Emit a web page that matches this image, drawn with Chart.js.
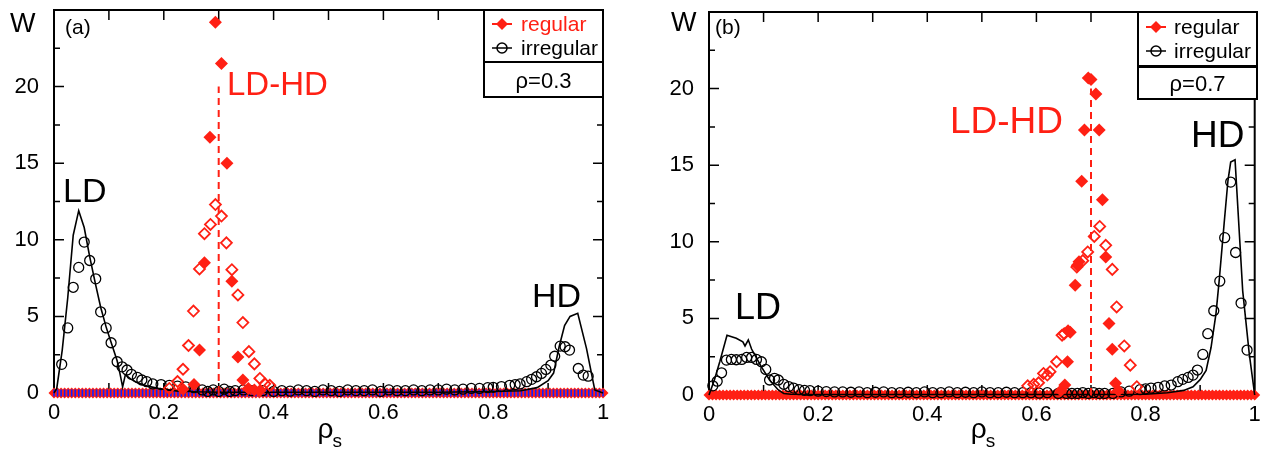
<!DOCTYPE html>
<html>
<head>
<meta charset="utf-8">
<script src="https://cdn.jsdelivr.net/npm/chart.js@4.4.1/dist/chart.umd.min.js"></script>
<style>
  html, body { margin: 0; padding: 0; background: #fff; }
  .row { display: flex; width: 1262px; height: 455px; }
  canvas { display: block; }
</style>
</head>
<body>
<div class="row">
  <canvas id="panelA" width="631" height="455"></canvas>
  <canvas id="panelB" width="631" height="455"></canvas>
</div>
<script>
// ---- panel (a), rho = 0.3 ----
const aRegFillX = [0.235, 0.255, 0.265, 0.274, 0.284, 0.294, 0.305, 0.315, 0.324, 0.335, 0.344, 0.354, 0.365, 0.375];
const aRegFillY = [0.25, 0.55, 2.8, 8.5, 16.7, 24.2, 21.5, 15.0, 7.3, 2.35, 0.85, 0.3, 0.2, 0.15];
const aRegOpenX = [0.21, 0.225, 0.235, 0.245, 0.254, 0.265, 0.274, 0.285, 0.294, 0.305, 0.314, 0.324, 0.335, 0.344, 0.355, 0.365, 0.375, 0.384, 0.393];
const aRegOpenY = [0.3, 0.75, 1.55, 3.1, 5.35, 8.1, 10.4, 11.0, 12.3, 11.55, 9.8, 8.05, 6.4, 4.6, 2.7, 1.9, 0.95, 0.6, 0.5];
const aIrrX = [0.014, 0.025, 0.035, 0.045, 0.055, 0.065, 0.076, 0.085, 0.095, 0.104, 0.115, 0.124, 0.133, 0.141, 0.152, 0.16, 0.169, 0.18, 0.195, 0.21, 0.225, 0.24, 0.255, 0.27, 0.28, 0.29, 0.3, 0.31, 0.32, 0.33, 0.345, 0.36, 0.38,
  0.4, 0.415, 0.43, 0.445, 0.46, 0.475, 0.49, 0.505, 0.52, 0.535, 0.55, 0.565, 0.58, 0.595, 0.61, 0.625, 0.64, 0.655, 0.67, 0.685, 0.7, 0.715, 0.73, 0.745, 0.76, 0.775, 0.79,
  0.8, 0.815, 0.83, 0.84, 0.849, 0.861, 0.87, 0.879, 0.888, 0.896, 0.905, 0.912, 0.922, 0.931, 0.939, 0.955, 0.964, 0.973];
const aIrrY = [1.87, 4.25, 6.9, 8.2, 9.85, 8.65, 7.45, 5.3, 4.25, 3.28, 2.04, 1.71, 1.5, 1.22, 1.02, 0.85, 0.74, 0.59, 0.55, 0.5, 0.45, 0.4, 0.35, 0.2, 0.1, 0.2, 0.1, 0.25, 0.1, 0.15, 0.2, 0.15, 0.15,
  0.1, 0.15, 0.12, 0.2, 0.15, 0.1, 0.2, 0.15, 0.1, 0.2, 0.15, 0.15, 0.2, 0.1, 0.2, 0.15, 0.15, 0.2, 0.15, 0.2, 0.2, 0.25, 0.2, 0.25, 0.3, 0.3, 0.35,
  0.37, 0.42, 0.5, 0.55, 0.59, 0.74, 0.89, 1.06, 1.28, 1.54, 1.82, 2.4, 3.06, 3.02, 2.8, 1.6, 1.17, 1.1];
const aLineX = [0, 0.005, 0.015, 0.025, 0.035, 0.045, 0.055, 0.065, 0.075, 0.085, 0.095, 0.105, 0.115, 0.12, 0.125, 0.13, 0.14, 0.15, 0.17, 0.19, 0.22, 0.26, 0.3, 0.35, 0.4, 0.5, 0.6, 0.7, 0.8, 0.85, 0.88, 0.9, 0.91, 0.92, 0.93, 0.94, 0.954, 0.97, 0.985, 1.0];
const aLineY = [0, 0.3, 2.8, 6.2, 10.3, 11.9, 10.8, 8.9, 7.2, 5.6, 4.3, 3.2, 2.1, 1.3, 0.4, 1.2, 0.9, 0.7, 0.45, 0.3, 0.15, 0.08, 0.05, 0.05, 0.05, 0.05, 0.05, 0.05, 0.1, 0.15, 0.35, 0.8, 1.3, 3.0, 4.4, 5.0, 5.2, 2.9, 0.2, 0];
const aCritX = [0.3, 0.3];
const aCritY = [0, 20];

// ---- panel (b), rho = 0.7 ----
const bRegFillX = [0.645, 0.652, 0.657, 0.658, 0.662, 0.671, 0.675, 0.678, 0.683, 0.688, 0.695, 0.7, 0.709, 0.715, 0.721, 0.727, 0.733, 0.739, 0.745, 0.75];
const bRegFillY = [0.3, 0.65, 2.17, 4.2, 4.1, 7.17, 8.47, 8.7, 13.96, 17.3, 20.7, 20.6, 19.65, 17.3, 12.75, 9.0, 4.67, 2.98, 0.76, 0.3];
const bRegOpenX = [0.584, 0.595, 0.604, 0.613, 0.62, 0.625, 0.637, 0.647, 0.651, 0.674, 0.685, 0.694, 0.706, 0.716, 0.727, 0.739, 0.747, 0.761, 0.772, 0.784];
const bRegOpenY = [0.6, 0.7, 0.8, 1.41, 1.3, 1.52, 2.17, 3.9, 4.0, 8.35, 8.77, 9.34, 10.35, 11.0, 9.77, 8.2, 5.75, 3.2, 1.95, 0.54];
const bIrrX = [0.007, 0.015, 0.023, 0.032, 0.041, 0.05, 0.06, 0.069, 0.078, 0.087, 0.096, 0.104, 0.111, 0.12, 0.127, 0.137, 0.146, 0.155, 0.165, 0.175,
  0.185, 0.2, 0.215, 0.23, 0.245, 0.26, 0.275, 0.29, 0.305, 0.32, 0.335, 0.35, 0.365, 0.38, 0.395, 0.41, 0.425, 0.44, 0.455, 0.47, 0.485, 0.5, 0.515, 0.53, 0.545, 0.56, 0.575, 0.59, 0.605, 0.62,
  0.64, 0.655, 0.665, 0.675, 0.685, 0.695, 0.705, 0.715, 0.725, 0.74, 0.755, 0.77, 0.79, 0.8, 0.81, 0.823, 0.835, 0.847, 0.859, 0.868, 0.878, 0.887, 0.895, 0.905, 0.914, 0.925, 0.936, 0.945, 0.956, 0.965, 0.975, 0.986];
const bIrrY = [0.6, 0.9, 1.45, 2.28, 2.32, 2.3, 2.32, 2.45, 2.45, 2.32, 2.17, 1.67, 0.98, 1.09, 0.98, 0.7, 0.55, 0.45, 0.35, 0.3,
  0.28, 0.25, 0.22, 0.2, 0.2, 0.18, 0.2, 0.15, 0.18, 0.2, 0.15, 0.15, 0.18, 0.15, 0.2, 0.15, 0.15, 0.2, 0.15, 0.18, 0.15, 0.2, 0.15, 0.15, 0.18, 0.15, 0.15, 0.15, 0.12, 0.15,
  0.1, 0.1, 0.1, 0.1, 0.15, 0.1, 0.15, 0.1, 0.1, 0.1, 0.2, 0.25, 0.35, 0.4, 0.45, 0.5, 0.59, 0.65, 0.87, 1.02, 1.15, 1.3, 1.63, 2.65, 4.0, 5.5, 7.43, 10.27, 13.9, 9.3, 6.0, 2.93];
const bLineX = [0, 0.01, 0.02, 0.033, 0.05, 0.062, 0.066, 0.072, 0.078, 0.096, 0.111, 0.127, 0.137, 0.15, 0.2, 0.3, 0.4, 0.5, 0.6, 0.7, 0.8, 0.84, 0.87, 0.887, 0.9, 0.911, 0.92, 0.929, 0.935, 0.944, 0.951, 0.956, 0.964, 0.978, 0.99, 1.0];
const bLineY = [0, 1.0, 2.2, 3.9, 3.7, 3.47, 3.2, 3.6, 3.0, 1.84, 0.98, 0.33, 0.1, 0.05, 0.03, 0.03, 0.03, 0.03, 0.03, 0.03, 0.05, 0.15, 0.3, 0.54, 1.0, 1.6, 3.1, 5.3, 7.5, 11.2, 14.0, 15.2, 15.35, 6.8, 2.7, 0];
const bCritX = [0.7, 0.7];
const bCritY = [0, 20];

// zero-valued bins along the baseline (all W = 0)
const zeroBins = Array.from({ length: 156 }, (_, i) => i / 155);

// axis tick marks
const xTickMarks = [0.1, 0.2, 0.3, 0.4, 0.5, 0.6, 0.7, 0.8, 0.9];
const yTickMarks = [2.5, 5, 7.5, 10, 12.5, 15, 17.5, 20, 22.5];

const RED = 'rgb(255,32,20)';
const FONT = '"Liberation Sans", Arial, sans-serif';

const pts = (xs, ys) => xs.map((x, i) => ({ x, y: ys[i] }));

const panelDecor = {
  id: 'panelDecor',
  beforeDatasetsDraw(chart) {
    const { ctx, chartArea: a, scales: { x, y } } = chart;
    ctx.save();
    ctx.strokeStyle = '#000';
    ctx.lineWidth = 2;
    ctx.strokeRect(a.left, a.top, a.right - a.left, a.bottom - a.top);
    ctx.lineWidth = 1.5;
    ctx.beginPath();
    xTickMarks.forEach(v => {
      const px = x.getPixelForValue(v);
      ctx.moveTo(px, a.bottom); ctx.lineTo(px, a.bottom - 10);
      ctx.moveTo(px, a.top); ctx.lineTo(px, a.top + 10);
    });
    yTickMarks.forEach(v => {
      const py = y.getPixelForValue(v);
      const len = v % 5 === 0 ? 10 : 6;
      ctx.moveTo(a.left, py); ctx.lineTo(a.left + len, py);
      ctx.moveTo(a.right, py); ctx.lineTo(a.right - len, py);
    });
    ctx.stroke();
    ctx.restore();
  },
  afterDatasetsDraw(chart, args, o) {
    const { ctx, chartArea: a } = chart;
    ctx.save();
    ctx.textBaseline = 'alphabetic';
    ctx.textAlign = 'left';
    const txt = (s, x, y, size, color) => {
      ctx.font = size + 'px ' + FONT;
      ctx.fillStyle = color || '#000';
      ctx.fillText(s, x, y);
    };
    txt('W', o.w[0], o.w[1], 27);
    txt(o.tag, o.tagPos[0], o.tagPos[1], 21);
    txt('LD', o.ld[0], o.ld[1], o.ld[2]);
    txt('HD', o.hd[0], o.hd[1], o.hd[2]);
    txt('LD-HD', o.ldhd[0], o.ldhd[1], o.ldhd[2], RED);

    // x axis title: rho with subscript s
    const cx = (a.left + a.right) / 2 - 11;
    txt('\u03c1', cx, 438, 28);
    ctx.font = '28px ' + FONT;
    const rw = ctx.measureText('\u03c1').width;
    txt('s', cx + rw - 1, 447, 19);

    // legend boxes
    const L = o.legend;
    ctx.fillStyle = '#fff';
    ctx.fillRect(L.left, L.top, L.right - L.left, L.bottom - L.top);
    ctx.strokeStyle = '#000';
    ctx.lineWidth = 2;
    ctx.strokeRect(L.left, L.top, L.right - L.left, L.mid - L.top);
    ctx.strokeRect(L.left, L.mid2, L.right - L.left, L.bottom - L.mid2);

    // regular entry
    ctx.strokeStyle = RED; ctx.lineWidth = 2;
    ctx.beginPath(); ctx.moveTo(L.mx - 10, L.r1); ctx.lineTo(L.mx + 10, L.r1); ctx.stroke();
    ctx.fillStyle = RED;
    ctx.beginPath();
    ctx.moveTo(L.mx, L.r1 - 6); ctx.lineTo(L.mx + 6, L.r1); ctx.lineTo(L.mx, L.r1 + 6); ctx.lineTo(L.mx - 6, L.r1);
    ctx.closePath(); ctx.fill();
    txt('regular', L.tx, L.r1 + 7, 21, L.regColor);

    // irregular entry
    ctx.strokeStyle = '#000'; ctx.lineWidth = 1.5;
    ctx.beginPath(); ctx.moveTo(L.mx - 10, L.r2); ctx.lineTo(L.mx + 10, L.r2); ctx.stroke();
    ctx.beginPath(); ctx.arc(L.mx, L.r2, 5, 0, Math.PI * 2); ctx.stroke();
    txt('irregular', L.tx, L.r2 + 7, 21);

    ctx.textAlign = 'center';
    txt(o.rho, (L.left + L.right) / 2, L.rhoBase, 22);
    ctx.restore();
  }
};

function makeChart(id, d, layout, decor, withBlue) {
  const datasets = [
    { data: pts(d.critX, d.critY), showLine: true, borderColor: RED, borderWidth: 2, borderDash: [7, 5], pointRadius: 0, order: 0 },
    { data: pts(d.fillX, d.fillY), pointStyle: 'rectRot', pointRadius: 6.5, backgroundColor: RED, borderColor: RED, borderWidth: 0, order: 1 },
    { data: pts(d.openX, d.openY), pointStyle: 'rectRot', pointRadius: 5.5, backgroundColor: 'rgba(0,0,0,0)', borderColor: RED, borderWidth: 1.8, order: 2 },
    { data: pts(d.irrX, d.irrY), pointStyle: 'circle', pointRadius: 5, backgroundColor: 'rgba(0,0,0,0)', borderColor: '#000', borderWidth: 1.3, order: 3 },
    { data: pts(d.lineX, d.lineY), showLine: true, borderColor: '#000', borderWidth: 1.6, pointRadius: 0, order: 4 },
    { data: pts(zeroBins, zeroBins.map(() => 0)), pointStyle: 'rectRot', pointRadius: 5.5, backgroundColor: RED, borderColor: RED, borderWidth: 0, order: 6 }
  ];
  if (withBlue) {
    datasets.push({ data: pts(zeroBins, zeroBins.map(() => 0)), pointStyle: 'line', rotation: 90, pointRadius: 3.6, borderColor: '#1020ff', borderWidth: 1.6, order: 5 });
  }
  datasets.forEach(ds => { ds.clip = 10; });

  return new Chart(document.getElementById(id), {
    type: 'scatter',
    data: { datasets },
    options: {
      responsive: false,
      animation: false,
      events: [],
      layout: { padding: layout.padding },
      plugins: { legend: { display: false }, tooltip: { enabled: false }, panelDecor: decor },
      scales: {
        x: {
          type: 'linear', min: 0, max: 1,
          grid: { display: false }, border: { display: false },
          afterFit(s) { s.height = layout.xHeight; s.paddingLeft = 0; s.paddingRight = 0; },
          ticks: {
            stepSize: 0.2, padding: -1, color: '#000', font: { family: FONT, size: 22 },
            callback: v => String(Math.round(v * 10) / 10)
          }
        },
        y: {
          min: 0, max: 25,
          grid: { display: false }, border: { display: false },
          afterFit(s) { s.width = layout.yWidth; s.paddingTop = 0; s.paddingBottom = 0; },
          ticks: {
            stepSize: 5, padding: 7, color: '#000', font: { family: FONT, size: 22 },
            callback: v => (v > 20 ? null : String(v))
          }
        }
      }
    },
    plugins: [panelDecor]
  });
}

makeChart('panelA',
  { critX: aCritX, critY: aCritY, fillX: aRegFillX, fillY: aRegFillY, openX: aRegOpenX, openY: aRegOpenY, irrX: aIrrX, irrY: aIrrY, lineX: aLineX, lineY: aLineY },
  { padding: { left: 0, right: 28, top: 10, bottom: 0 }, yWidth: 54, xHeight: 62 },
  {
    w: [10, 32], tag: '(a)', tagPos: [65, 34],
    ld: [63, 202, 34], hd: [532, 307, 34], ldhd: [227, 95, 33],
    rho: '\u03c1=0.3',
    legend: { left: 484, right: 603, top: 10, mid: 62, mid2: 62, bottom: 97, mx: 502, r1: 24, r2: 48, tx: 521, regColor: RED, rhoBase: 88 }
  },
  true);

makeChart('panelB',
  { critX: bCritX, critY: bCritY, fillX: bRegFillX, fillY: bRegFillY, openX: bRegOpenX, openY: bRegOpenY, irrX: bIrrX, irrY: bIrrY, lineX: bLineX, lineY: bLineY },
  { padding: { left: 0, right: 5, top: 12, bottom: 0 }, yWidth: 78, xHeight: 60 },
  {
    w: [40, 31], tag: '(b)', tagPos: [84, 34],
    ld: [104, 319, 36], hd: [560, 147, 37], ldhd: [319, 133, 37],
    rho: '\u03c1=0.7',
    legend: { left: 507, right: 626, top: 12, mid: 66, mid2: 67, bottom: 99, mx: 525, r1: 27, r2: 51, tx: 543, regColor: '#000', rhoBase: 91 }
  },
  false);
</script>
</body>
</html>
